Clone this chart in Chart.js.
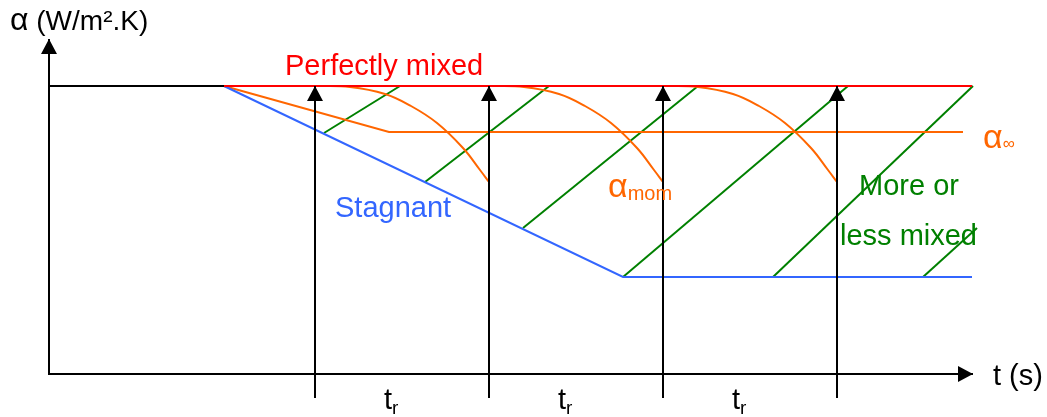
<!DOCTYPE html>
<html>
<head>
<meta charset="utf-8">
<script src="https://cdn.jsdelivr.net/npm/chart.js@4"></script>
<style>
  html, body { margin: 0; padding: 0; background: #fff; }
  #wrap { width: 1047px; height: 417px; position: relative; }
</style>
</head>
<body>
<div id="wrap"><canvas id="alpha-chart"></canvas></div>
<script>
// values, x = time, y = alpha (arbitrary units, origin at the axes crossing)
const initialX = [0, 175]
const initialY = [288, 288]

const perfectX = [175, 923]
const perfectY = [288, 288]

const stagnantX = [175, 574, 923]
const stagnantY = [288, 97, 97]

const alphaInfX = [175, 340, 914]
const alphaInfY = [288, 242, 242]

// alpha_mom after each renewal
const mom1X = [266, 301, 336, 362, 388, 414, 431, 440]
const mom2X = [440, 475, 510, 536, 562, 588, 605, 614]
const mom3X = [614, 649, 684, 710, 736, 762, 779, 788]
const momY = [288, 287, 280, 268, 251, 226, 204, 192]

// "more or less mixed" segments
const mixedStartX = [275, 376, 474, 574, 724, 874]
const mixedStartY = [241, 192, 146, 97, 97, 97]
const mixedEndX = [351, 500, 649, 799, 924, 928]
const mixedEndY = [288, 288, 288, 288, 288, 146]

// renewal instants (vertical arrows)
const renewX = [266, 440, 614, 788]
const renewBottom = -24
const renewTop = 288

const axisXEnd = 924
const axisYEnd = 335

const tickLabels = ['t', 't', 't']
const tickSubs = ['r', 'r', 'r']
const tickLabelX = [335, 509, 683]

const RED = '#ff0000'
const ORANGE = '#ff6600'
const BLUE = '#3366ff'
const GREEN = '#008000'
const FONT = '"Liberation Sans", Arial, sans-serif'

const pts = (xs, ys) => xs.map((x, i) => ({ x: x, y: ys[i] }))

const line = (data, color, extra) => Object.assign({
  data: data,
  showLine: true,
  borderColor: color,
  backgroundColor: color,
  borderWidth: 2,
  pointRadius: 0,
  fill: false,
}, extra || {})

const datasets = []

// axes
datasets.push(line([{ x: 0, y: 0 }, { x: axisXEnd, y: 0 }], '#000', { arrow: true, order: 0 }))
datasets.push(line([{ x: 0, y: -1 }, { x: 0, y: axisYEnd }], '#000', { arrow: true, order: 0 }))

// renewal arrows
renewX.forEach(x => {
  datasets.push(line([{ x: x, y: renewBottom }, { x: x, y: renewTop }], '#000', { arrow: true, order: 0 }))
})

datasets.push(line(pts(initialX, initialY), '#000', { order: 2 }))
datasets.push(line(pts(perfectX, perfectY), RED, { order: 1 }))
datasets.push(line(pts(stagnantX, stagnantY), BLUE, { order: 3 }))
datasets.push(line(pts(alphaInfX, alphaInfY), ORANGE, { order: 3 }))

;[mom1X, mom2X, mom3X].forEach(xs => {
  datasets.push(line(pts(xs, momY), ORANGE, { tension: 0.4, order: 3 }))
})

mixedStartX.forEach((x, i) => {
  datasets.push(line([{ x: x, y: mixedStartY[i] }, { x: mixedEndX[i], y: mixedEndY[i] }], GREEN, { order: 3 }))
})

// arrow heads on the last point of flagged datasets
const arrowHeads = {
  id: 'arrowHeads',
  afterDatasetsDraw(chart) {
    const ctx = chart.ctx
    chart.data.datasets.forEach((ds, i) => {
      if (!ds.arrow) return
      const pts = chart.getDatasetMeta(i).data
      const a = pts[pts.length - 2]
      const b = pts[pts.length - 1]
      const ang = Math.atan2(b.y - a.y, b.x - a.x)
      const len = 15, half = 8
      ctx.save()
      ctx.translate(b.x, b.y)
      ctx.rotate(ang)
      ctx.beginPath()
      ctx.moveTo(0, 0)
      ctx.lineTo(-len, -half)
      ctx.lineTo(-len, half)
      ctx.closePath()
      ctx.fillStyle = ds.borderColor
      ctx.fill()
      ctx.restore()
    })
  }
}

// text annotations
const labels = {
  id: 'labels',
  afterDraw(chart) {
    const ctx = chart.ctx
    const sx = chart.scales.x, sy = chart.scales.y
    const put = (parts, x, y, color) => {
      let px = sx.getPixelForValue(x)
      const py = sy.getPixelForValue(y)
      ctx.save()
      ctx.fillStyle = color
      ctx.textBaseline = 'alphabetic'
      ctx.textAlign = 'left'
      parts.forEach(p => {
        ctx.font = p.size + 'px ' + FONT
        ctx.fillText(p.t, px, py + (p.dy || 0))
        px += ctx.measureText(p.t).width
      })
      ctx.restore()
    }
    put([{ t: 'α', size: 32 }, { t: ' (W/m².K)', size: 28 }], -39, 344, '#000')
    put([{ t: 'Perfectly mixed', size: 29 }], 236, 299, RED)
    put([{ t: 'Stagnant', size: 29 }], 286, 157, BLUE)
    put([{ t: 'α', size: 34 }, { t: 'mom', size: 20, dy: 3 }], 559, 177, ORANGE)
    put([{ t: 'α', size: 34 }, { t: '∞', size: 17, dy: 1 }], 934, 226, ORANGE)
    put([{ t: 'More or', size: 29 }], 810, 179, GREEN)
    put([{ t: 'less mixed', size: 29 }], 791, 129, GREEN)
    put([{ t: 't (s)', size: 29 }], 944, -11, '#000')
    tickLabels.forEach((t, i) => {
      put([{ t: t, size: 29 }, { t: tickSubs[i], size: 19, dy: 5 }], tickLabelX[i], -35, '#000')
    })
  }
}

const alphaChart = new Chart(document.getElementById('alpha-chart'), {
  type: 'scatter',
  data: { datasets: datasets },
  options: {
    responsive: true,
    maintainAspectRatio: false,
    animation: false,
    layout: { padding: 0 },
    plugins: {
      legend: { display: false },
      tooltip: { enabled: false },
    },
    scales: {
      x: { type: 'linear', display: false, min: -49, max: 998 },
      y: { type: 'linear', display: false, min: -43, max: 374 },
    },
  },
  plugins: [arrowHeads, labels],
})
</script>
</body>
</html>
